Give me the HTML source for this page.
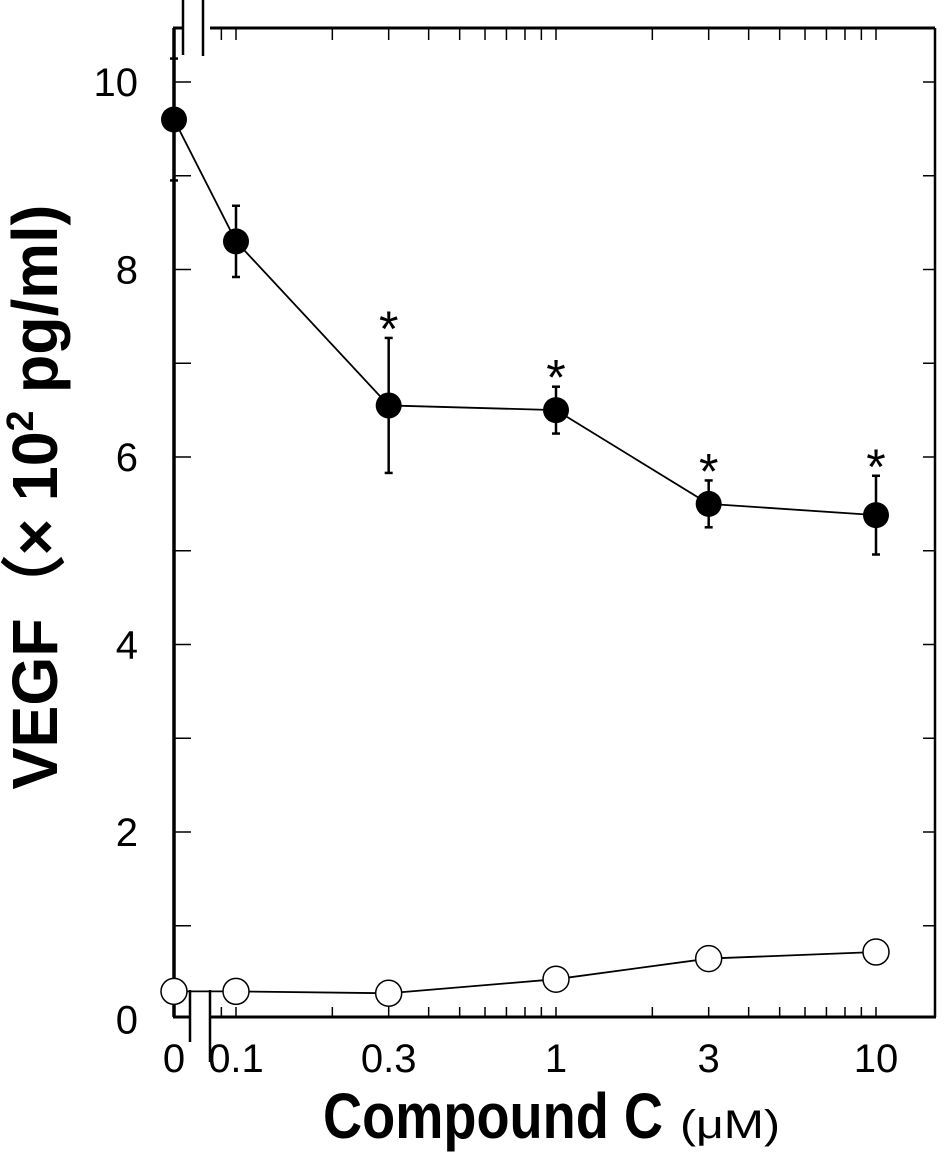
<!DOCTYPE html>
<html><head><meta charset="utf-8"><style>
html,body{margin:0;padding:0;background:#fff;}
svg{display:block;font-family:"Liberation Sans",Arial,sans-serif;}
</style></head><body>
<svg id="chart" width="945" height="1161" viewBox="0 0 945 1161">
<g id="axes"></g>
<g id="marks"></g>
<text x="0" y="0" transform="translate(57,497) rotate(-90)" text-anchor="middle" font-size="64" font-weight="bold" textLength="585" lengthAdjust="spacingAndGlyphs">VEGF（× 10<tspan dy="-24" font-size="38">2</tspan><tspan dy="24"> pg/ml)</tspan></text>
<text x="323" y="1138" font-size="64" font-weight="bold" textLength="340" lengthAdjust="spacingAndGlyphs">Compound C</text>
<text x="680" y="1138" font-size="40" textLength="100" lengthAdjust="spacingAndGlyphs">(μM)</text>
</svg>
<script>
const categories = [0, 0.1, 0.3, 1, 3, 10];
const xTickLabels = ["0", "0.1", "0.3", "1", "3", "10"];
const filledMean = [9.6, 8.3, 6.55, 6.5, 5.5, 5.38];
const filledErr = [0.65, 0.38, 0.72, 0.25, 0.25, 0.42];
const openMean = [0.3, 0.3, 0.28, 0.43, 0.65, 0.72];
const significant = [false, false, true, true, true, true];
const yTicks = [0, 2, 4, 6, 8, 10];

const NS = "http://www.w3.org/2000/svg";
const L = 174, R = 935, T = 28, B = 1017;
function xs(v) { return v === 0 ? 174 : 556 + Math.log10(v) * 320; }
function ys(v) { return 1019.5 - v * 93.75; }
function mk(parent, tag, attrs) {
  const e = document.createElementNS(NS, tag);
  for (const k in attrs) e.setAttribute(k, attrs[k]);
  parent.appendChild(e);
  return e;
}
const ax = document.getElementById('axes');
const mg = document.getElementById('marks');
const line = (p, x1, y1, x2, y2, w) => mk(p, 'line', {x1, y1, x2, y2, stroke: '#000', 'stroke-width': w});

let e;
e = line(ax, L, T, L, B, 3.5);


e = line(ax, R, T, R, B, 2.5);


line(ax, L - 1, T, 183, T, 3); line(ax, 210, T, R, T, 3);
line(ax, L - 1, B, 190, B, 3); line(ax, 211, B, R + 1, B, 3);
line(ax, 183, 0, 183, 55, 2.5); line(ax, 203, 0, 203, 56, 2.5);
line(ax, 190, 990, 190, 1042, 2.5); line(ax, 210, 990, 210, 1062, 2.5);

for (let v = 1; v <= 10; v++) {
  line(ax, L, ys(v), L + 17, ys(v), 1.5);
  line(ax, R, ys(v), R - 12, ys(v), 1.5);
}
yTicks.forEach(v => {
  const t = mk(ax, 'text', {x: 138, y: ys(v) + 14, 'text-anchor': 'end', 'font-size': 40});
  t.textContent = String(v);
  
  
});
const minor = [0.09];
for (let d of [0.1, 1]) for (let m = 1; m <= 9; m++) minor.push(d * m);
minor.push(10);
minor.forEach(v => {
  const x = xs(v);
  line(ax, x, B, x, B - 10, 1.5);
  line(ax, x, T, x, T + 12, 1.5);
});
categories.forEach((c, i) => {
  const t = mk(ax, 'text', {x: xs(c), y: 1072, 'text-anchor': 'middle', 'font-size': 40});
  t.textContent = xTickLabels[i];
  
  
});

const fpts = categories.map((c, i) => xs(c) + ',' + ys(filledMean[i])).join(' ');
e = mk(mg, 'polyline', {points: fpts, fill: 'none', stroke: '#000', 'stroke-width': 1.8});


const opts = categories.map((c, i) => xs(c) + ',' + ys(openMean[i])).join(' ');
e = mk(mg, 'polyline', {points: opts, fill: 'none', stroke: '#000', 'stroke-width': 1.8});



categories.forEach((c, i) => {
  const x = xs(c), m = filledMean[i], er = filledErr[i];
  line(mg, x, ys(m - er), x, ys(m + er), 2.5);
  line(mg, x - 4, ys(m + er), x + 4, ys(m + er), 2.5);
  line(mg, x - 4, ys(m - er), x + 4, ys(m - er), 2.5);
  e = mk(mg, 'circle', {cx: x, cy: ys(m), r: 13, fill: '#000'});
  
  
  if (significant[i]) {
    const s = mk(mg, 'text', {x: x, y: ys(m + er) + 8, 'text-anchor': 'middle', 'font-size': 50});
    s.textContent = '*';
    
    
  }
  e = mk(mg, 'circle', {cx: x, cy: ys(openMean[i]), r: 13, fill: '#fff', stroke: '#000', 'stroke-width': 1.5});
  
  
});
</script>
</body></html>
